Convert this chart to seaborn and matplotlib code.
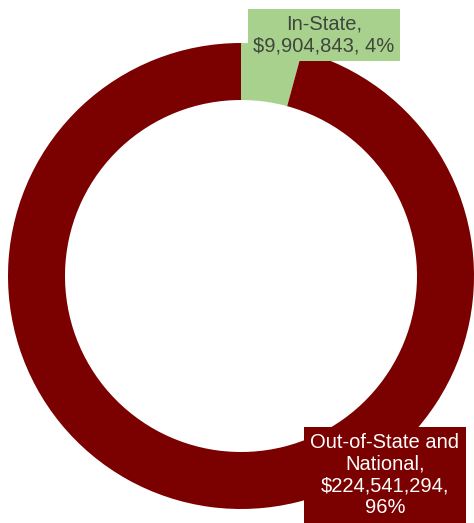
import matplotlib
matplotlib.use("Agg")
import matplotlib.pyplot as plt
import seaborn as sns

sns.set_theme(style="white")
plt.rcParams['font.family'] = ['Liberation Sans', 'DejaVu Sans']

categories = ["In-State", "Out-of-State and\nNational"]
values = [9904843, 224541294]
colors = ["#a9d18e", "#7b0000"]
text_colors = ["#3f463c", "#ffffff"]

W, H = 474, 523
fig = plt.figure(figsize=(W / 100, H / 100), dpi=100)
ax = fig.add_axes([0, 0, 1, 1])

cx, cy, R = 241, H - 276, 233
ax.pie(values, colors=colors, startangle=90, counterclock=False,
       center=(cx, cy), radius=R,
       wedgeprops=dict(width=57, edgecolor="none", linewidth=0))

total = sum(values)
pct = [round(v / total * 100) for v in values]

lab0 = f"{categories[0]},\n${values[0]:,}, {pct[0]}%"
ax.text(324, H - 35, lab0, ha="center", va="center", fontsize=14.5,
        color=text_colors[0], linespacing=1.15,
        bbox=dict(boxstyle="square,pad=0.27", fc=colors[0], ec="none"))

lab1 = f"{categories[1]},\n${values[1]:,},\n{pct[1]}%"
ax.text(385, H - 475, lab1, ha="center", va="center", fontsize=14.5,
        color=text_colors[1], linespacing=1.18,
        bbox=dict(boxstyle="square,pad=0.32", fc=colors[1], ec="none"))

ax.set_xlim(0, W)
ax.set_ylim(0, H)
ax.set_aspect("equal")
ax.axis("off")
fig.savefig("out.png", dpi=100)
